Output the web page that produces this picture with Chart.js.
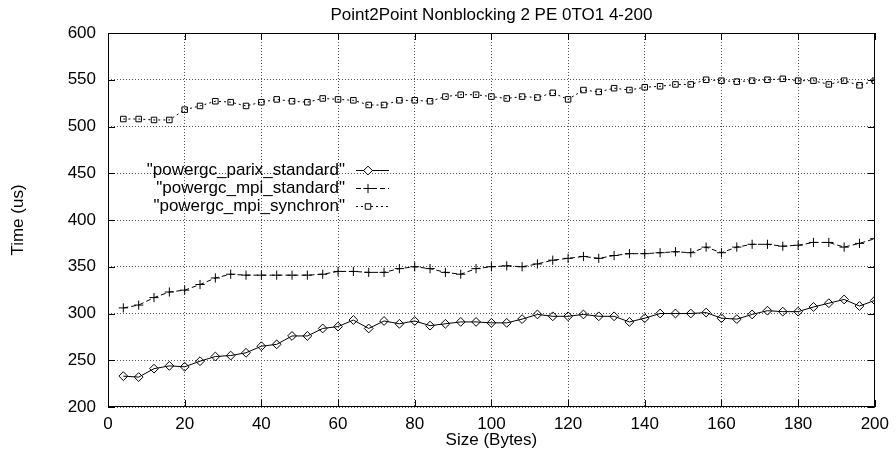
<!DOCTYPE html>
<html><head><meta charset="utf-8">
<script src="https://cdn.jsdelivr.net/npm/chart.js@4/dist/chart.umd.min.js"></script>
<style>html,body{margin:0;padding:0;background:#fff}#wrap{width:896px;height:455px}</style>
</head><body><div id="wrap"><canvas id="c" width="896" height="455"></canvas></div>
<script>
const chartTitle = 'Point2Point Nonblocking 2 PE 0TO1 4-200';
const xAxisTitle = 'Size (Bytes)';
const yAxisTitle = 'Time (us)';
const sizes = [4,8,12,16,20,24,28,32,36,40,44,48,52,56,60,64,68,72,76,80,84,88,92,96,100,104,108,112,116,120,124,128,132,136,140,144,148,152,156,160,164,168,172,176,180,184,188,192,196,200];
const parixStandard = [233,232,241,244,243,249,254,255,258,265, 267,276,276,284,286,293,284,292,289,292, 287,289,291,291,290,290,294,299,297,297, 299,297,297,291,295,300,300,300,301,295, 294,299,303,302,302,307,311,315,308,314];
const mpiStandard = [306,309,317,323,325,331,338,342,341,341, 341,341,341,342,345,345,344,344,348,350, 348,344,342,348,350,351,350,353,357,359, 361,359,362,364,364,365,366,365,371,365, 371,374,374,372,373,376,376,371,375,380];
const mpiSynchron = [508,508,507,507,518,522,527,526,522,526, 529,527,526,530,529,528,523,523,528,528, 527,532,534,534,532,530,532,531,536,529, 539,537,541,539,542,543,545,545,550,549, 548,549,550,551,549,549,545,549,544,549];
const seriesLabels = ['"powergc_parix_standard"', '"powergc_mpi_standard"', '"powergc_mpi_synchron"'];
const xTicks = [0,20,40,60,80,100,120,140,160,180,200];
const yTicks = [200,250,300,350,400,450,500,550,600];

const FONT = '"Liberation Sans", Arial, Helvetica, sans-serif';
const styles = [
  {dash: [], point: 'rectRot', radius: 4.4},
  {dash: [5, 3], point: 'cross', radius: 4.6},
  {dash: [2, 3], point: 'rect', radius: 3.9}
];
const seriesValues = [parixStandard, mpiStandard, mpiSynchron];

const datasets = seriesValues.map((vals, i) => ({
  label: seriesLabels[i],
  data: sizes.map((s, j) => ({x: s, y: vals[j]})),
  borderColor: '#000',
  backgroundColor: '#fff',
  borderWidth: 1,
  borderDash: styles[i].dash,
  pointStyle: styles[i].point,
  pointRadius: styles[i].radius,
  pointBorderColor: '#000',
  pointBackgroundColor: 'rgba(255,255,255,0)',
  pointBorderWidth: 1,
  tension: 0,
  fill: false
}));

const framePlugin = {
  id: 'frameTicks',
  afterLayout(chart) {
    // gnuplot centres the title over the plot area
    const t = chart.titleBlock, a = chart.chartArea;
    if (t && a) { t.left = a.left; t.right = a.right; t.width = a.right - a.left; }
  },
  afterDatasetsDraw(chart) {
    const {ctx, chartArea: a, scales} = chart;
    ctx.save();
    ctx.strokeStyle = '#000';
    ctx.lineWidth = 1;
    ctx.setLineDash([]);
    ctx.strokeRect(Math.round(a.left) + 0.5, Math.round(a.top) + 0.5, Math.round(a.right - a.left) - 1, Math.round(a.bottom - a.top) - 1);
    const L = 7;
    ctx.beginPath();
    xTicks.forEach(v => {
      const px = Math.round(scales.x.getPixelForValue(v)) + 0.5;
      ctx.moveTo(px, a.bottom); ctx.lineTo(px, a.bottom - L);
      ctx.moveTo(px, a.top); ctx.lineTo(px, a.top + L);
    });
    yTicks.forEach(v => {
      const py = Math.round(scales.y.getPixelForValue(v)) + 0.5;
      ctx.moveTo(a.left, py); ctx.lineTo(a.left + L, py);
      ctx.moveTo(a.right, py); ctx.lineTo(a.right - L, py);
    });
    ctx.stroke();

    // key
    const textRight = 345, x1 = 356, x2 = 389, mx = 368;
    const rows = [170, 188, 206];
    ctx.font = '17px ' + FONT;
    ctx.fillStyle = '#000';
    ctx.textAlign = 'right';
    ctx.textBaseline = 'middle';
    seriesLabels.forEach((lab, i) => {
      const y = rows[i];
      ctx.fillText(lab, textRight, y);
      ctx.save();
      ctx.setLineDash(styles[i].dash);
      ctx.beginPath();
      ctx.moveTo(x1, y + 0.5); ctx.lineTo(x2, y + 0.5);
      ctx.stroke();
      ctx.restore();
      if (Chart.helpers && Chart.helpers.drawPoint) {
        ctx.save();
        ctx.setLineDash([]);
        ctx.strokeStyle = '#000';
        ctx.fillStyle = '#fff';
        ctx.lineWidth = 1;
        Chart.helpers.drawPoint(ctx, {pointStyle: styles[i].point, radius: styles[i].radius, rotation: 0, borderWidth: 1}, mx, y + 0.5);
        ctx.restore();
      }
    });
    ctx.restore();
  }
};

new Chart(document.getElementById('c'), {
  type: 'line',
  data: {datasets},
  options: {
    responsive: false,
    animation: false,
    devicePixelRatio: 1,
    layout: {padding: {left: 0, right: 17, top: 0, bottom: 0}},
    plugins: {
      legend: {display: false},
      tooltip: {enabled: false},
      title: {
        display: true, text: chartTitle, color: '#000',
        font: {family: FONT, size: 17, weight: 'normal'},
        padding: {top: 5, bottom: 7.6}
      }
    },
    scales: {
      x: {
        type: 'linear', min: 0, max: 200,
        afterFit(s) { s.height = 48; },
        afterBuildTicks(s) { s.ticks = xTicks.map(v => ({value: v})); },
        ticks: {color: '#000', font: {family: FONT, size: 17}, padding: 7, maxRotation: 0, autoSkip: false},
        grid: {color: '#555', lineWidth: 1, drawTicks: false},
        border: {display: false, dash: [1, 2]},
        title: {display: true, text: xAxisTitle, color: '#000', font: {family: FONT, size: 17}, padding: {top: 0, bottom: 4}}
      },
      y: {
        type: 'linear', min: 200, max: 600,
        afterFit(s) { s.width = 108; },
        afterBuildTicks(s) { s.ticks = yTicks.map(v => ({value: v})); },
        ticks: {color: '#000', font: {family: FONT, size: 17}, padding: 12, autoSkip: false},
        grid: {color: '#555', lineWidth: 1, drawTicks: false},
        border: {display: false, dash: [1, 2]},
        title: {display: true, text: yAxisTitle, color: '#000', font: {family: FONT, size: 17}, padding: {top: 8.5, bottom: 0}}
      }
    }
  },
  plugins: [framePlugin]
});
</script>
</body></html>
